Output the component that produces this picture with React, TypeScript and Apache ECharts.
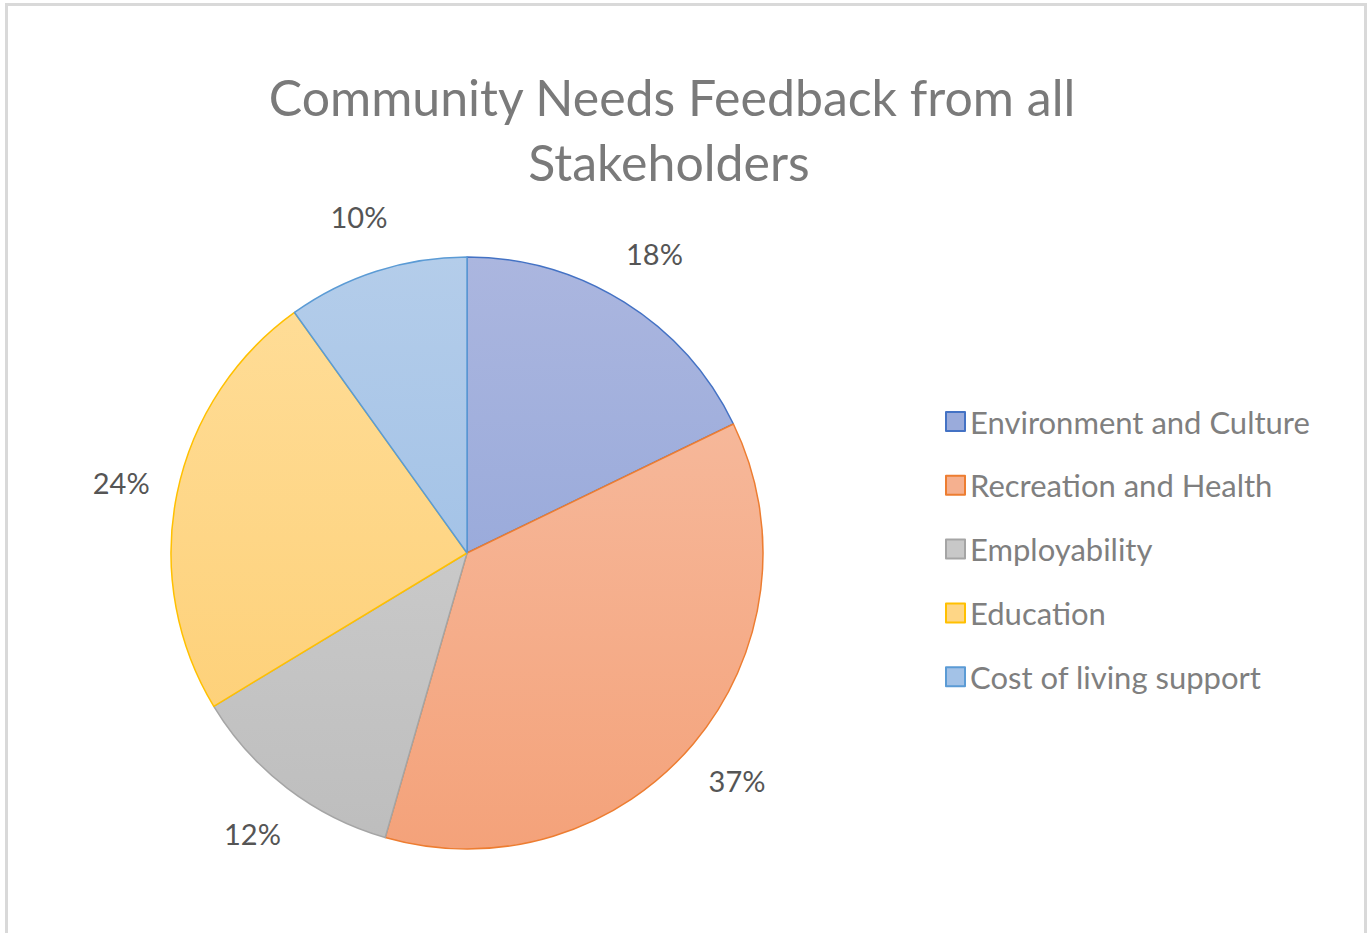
import React, { useEffect, useRef } from "react";
import * as echarts from "echarts";

const titleLines = ["Community Needs Feedback from all", "Stakeholders"];
const categories = [
  "Environment and Culture",
  "Recreation and Health",
  "Employability",
  "Education",
  "Cost of living support",
];
const values = [18, 37, 12, 24, 10];
const topColors = ["#abb6df", "#f7c0a6", "#d5d5d5", "#ffde9a", "#b4cdea"];
const bottomColors = ["#8aa0d7", "#f4a27a", "#bdbdbd", "#fdcd70", "#94b9e4"];
const borderColors = ["#4472c4", "#ed7d31", "#a5a5a5", "#ffc000", "#5b9bd5"];
const midColors = ["#9aabdb", "#f5b08f", "#c8c8c8", "#fed686", "#a3c2e7"];

const CX = 467;
const CY = 553;
const R = 296;

export default function App() {
  const ref = useRef<HTMLDivElement>(null);
  useEffect(() => {
    if (!ref.current) return;
    const chart = echarts.init(ref.current, undefined, { renderer: "svg" });
    const grad = (i: number) => ({
      type: "linear",
      x: 0,
      y: CY - R,
      x2: 0,
      y2: CY + R,
      global: true,
      colorStops: [
        { offset: 0, color: topColors[i] },
        { offset: 1, color: bottomColors[i] },
      ],
    });
    const titleStyle = {
      align: "center",
      verticalAlign: "middle",
      fontFamily: "Lato",
      fontSize: 50,
      fill: "#7a7a7a",
    };
    chart.setOption({
      animation: false,
      backgroundColor: "#ffffff",
      graphic: [
        {
          type: "rect",
          shape: { x: 6.5, y: 4.5, width: 1359, height: 940 },
          style: { fill: "none", stroke: "#d9d9d9", lineWidth: 3 },
          silent: true,
        },
        {
          type: "text",
          x: 672,
          y: 97,
          style: { ...titleStyle, text: titleLines[0] },
        },
        {
          type: "text",
          x: 669,
          y: 162,
          style: { ...titleStyle, text: titleLines[1] },
        },
      ],
      legend: {
        orient: "vertical",
        left: 940,
        top: 401,
        icon: "rect",
        itemWidth: 19,
        itemHeight: 19,
        itemGap: 32.8,
        selectedMode: false,
        textStyle: {
          fontFamily: "Lato",
          fontSize: 31,
          color: "#7f7f7f",
        },
        data: categories.map((name, i) => ({
          name,
          itemStyle: {
            color: midColors[i],
            borderColor: borderColors[i],
            borderWidth: 2,
          },
        })),
      },
      series: [
        {
          type: "pie",
          center: [CX, CY],
          radius: R,
          startAngle: 90,
          clockwise: true,
          label: { show: false },
          labelLine: { show: false },
          emphasis: { disabled: true },
          data: categories.map((name, i) => ({
            name,
            value: values[i],
            itemStyle: {
              color: grad(i),
              borderColor: borderColors[i],
              borderWidth: 1.5,
            },
          })),
        },
        {
          type: "pie",
          center: [CX, CY],
          radius: [336, 364],
          startAngle: 90,
          clockwise: true,
          silent: true,
          emphasis: { disabled: true },
          itemStyle: { color: "rgba(0,0,0,0)", borderWidth: 0 },
          label: {
            show: true,
            position: "inside",
            fontFamily: "Lato",
            fontSize: 29,
            color: "#555555",
            formatter: (p: any) => Math.round(p.percent) + "%",
          },
          labelLine: { show: false },
          data: categories.map((name, i) => ({ name, value: values[i] })),
        },
      ],
    });
    return () => chart.dispose();
  }, []);
  return (
    <div
      ref={ref}
      style={{ position: "absolute", left: 0, top: 0, width: 1370, height: 933 }}
    />
  );
}
